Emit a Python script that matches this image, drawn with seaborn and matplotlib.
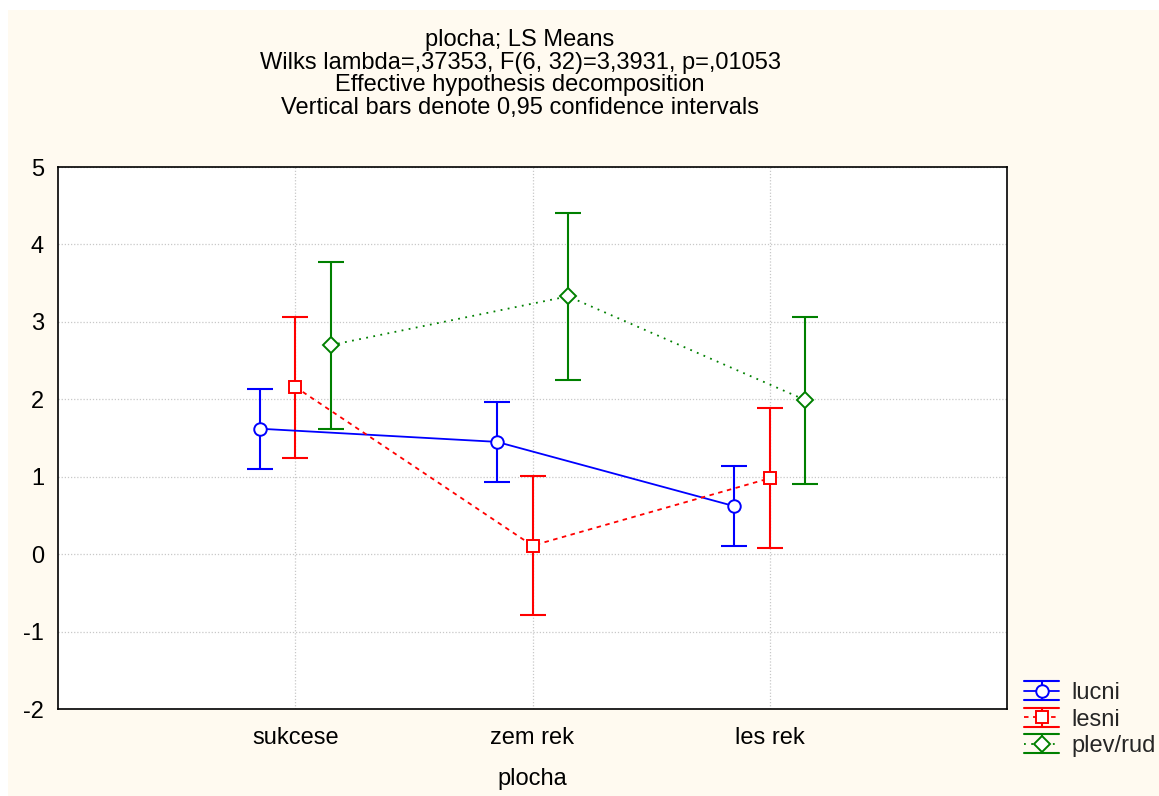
import numpy as np
import pandas as pd
import matplotlib
matplotlib.use("Agg")
import matplotlib.pyplot as plt
import seaborn as sns
from matplotlib.legend_handler import HandlerBase
from matplotlib.lines import Line2D
from matplotlib.patches import Rectangle

# ---- data ----
categories = ["sukcese", "zem rek", "les rek"]
series = ["lucni", "lesni", "plev/rud"]
lucni_mean = [1.62, 1.45, 0.62]
lucni_low = [1.10, 0.93, 0.11]
lucni_high = [2.13, 1.97, 1.14]
lesni_mean = [2.16, 0.11, 0.98]
lesni_low = [1.24, -0.79, 0.08]
lesni_high = [3.06, 1.01, 1.89]
plev_mean = [2.70, 3.33, 1.99]
plev_low = [1.62, 2.25, 0.90]
plev_high = [3.77, 4.41, 3.06]

title_lines = ["plocha; LS Means",
               "Wilks lambda=,37353, F(6, 32)=3,3931, p=,01053",
               "Effective hypothesis decomposition",
               "Vertical bars denote 0,95 confidence intervals"]

means = [lucni_mean, lesni_mean, plev_mean]
lows = [lucni_low, lesni_low, plev_low]
highs = [lucni_high, lesni_high, plev_high]

colors = ["#0000ff", "#ff0000", "#008000"]
markers = ["o", "s", "D"]
msizes = [9, 8.5, 8]
dashes = [(None, None), (2.5, 2.5), (1, 3)]
offsets = [-0.15, 0.0, 0.15]

rows = []
for s, m, lo, hi in zip(series, means, lows, highs):
    for i, c in enumerate(categories):
        rows.append(dict(series=s, cat=c, idx=i, mean=m[i], low=lo[i], high=hi[i]))
df = pd.DataFrame(rows)

sns.set_theme(style="white")
plt.rcParams["font.family"] = ["Liberation Sans", "DejaVu Sans"]
plt.rcParams["axes.unicode_minus"] = False

FS = 17

fig = plt.figure(figsize=(11.59, 7.96), dpi=100, facecolor="#fffaf0")
fig.patches.append(Rectangle((0, 0), 8 / 1159, 1, transform=fig.transFigure,
                             facecolor="white", edgecolor="none", zorder=-1))
fig.patches.append(Rectangle((0, 1 - 10 / 796), 1, 10 / 796, transform=fig.transFigure,
                             facecolor="white", edgecolor="none", zorder=-1))
ax = fig.add_axes([58 / 1159, 1 - 709 / 796, (1007 - 58) / 1159, (709 - 167) / 796])
ax.set_facecolor("white")

for k, s in enumerate(series):
    sub = df[df["series"] == s].copy()
    sub["x"] = sub["idx"] + offsets[k]
    ax.errorbar(sub["x"], sub["mean"],
                yerr=[sub["mean"] - sub["low"], sub["high"] - sub["mean"]],
                fmt="none", ecolor=colors[k], elinewidth=1.5, capsize=9.5,
                capthick=1.5, zorder=2)
    ls = "-" if k == 0 else (0, dashes[k])
    sns.lineplot(data=sub, x="x", y="mean", ax=ax, color=colors[k],
                 linestyle=ls, linewidth=1.3, marker=markers[k],
                 markersize=msizes[k], markerfacecolor="white",
                 markeredgecolor=colors[k], markeredgewidth=1.4,
                 legend=False, zorder=3, estimator=None, sort=False)

ax.set_xlim(-1, 3)
ax.set_ylim(-2, 5)
ax.set_xticks(range(len(categories)))
ax.set_xticklabels(categories)
ax.set_yticks(range(-2, 6))
ax.grid(True, color="#c8c8c8", linestyle=(0, (1, 1.5)), linewidth=0.9)
ax.set_axisbelow(True)
for sp in ax.spines.values():
    sp.set_color("black")
    sp.set_linewidth(1.2)
ax.tick_params(axis="both", length=0, labelsize=FS, colors="black")
ax.tick_params(axis="x", pad=13)
ax.tick_params(axis="y", pad=10)
ax.set_xlabel("plocha", fontsize=FS, color="black", labelpad=14)
ax.set_ylabel("")

fig.text(520 / 1159, 1 - 29 / 796, "\n".join(title_lines), ha="center", va="top",
         fontsize=FS, color="black", linespacing=1.04)


class ErrHandler(HandlerBase):
    def __init__(self, color, marker, ms, ls):
        super().__init__()
        self.color, self.marker, self.ms, self.ls = color, marker, ms, ls

    def create_artists(self, legend, orig_handle, xdescent, ydescent, width, height,
                       fontsize, trans):
        cy = height / 2 - ydescent
        x0, x1 = -xdescent, width - xdescent
        cx = (x0 + x1) / 2
        h = 6.9
        arts = [
            Line2D([x0, x1], [cy, cy], color=self.color, linestyle=self.ls, linewidth=1.3),
            Line2D([x0, x1], [cy + h, cy + h], color=self.color, linewidth=1.5),
            Line2D([x0, x1], [cy - h, cy - h], color=self.color, linewidth=1.5),
            Line2D([cx, cx], [cy - h, cy + h], color=self.color, linewidth=1.5),
            Line2D([cx], [cy], marker=self.marker, markersize=self.ms,
                   markerfacecolor="white", markeredgecolor=self.color,
                   markeredgewidth=1.4, linestyle="none"),
        ]
        for a in arts:
            a.set_transform(trans)
        return arts


handles = [Rectangle((0, 0), 1, 1) for _ in series]
hmap = {}
for k, h in enumerate(handles):
    ls = "-" if k == 0 else (0, dashes[k])
    hmap[h] = ErrHandler(colors[k], markers[k], msizes[k], ls)
fig.legend(handles, series, handler_map=hmap, loc="lower left",
           bbox_to_anchor=(1024 / 1159, 39 / 796), frameon=False, fontsize=FS,
           handlelength=1.5, handletextpad=0.5, labelspacing=0.19,
           borderaxespad=0, borderpad=0)

fig.savefig("out.png", dpi=100, facecolor=fig.get_facecolor())
